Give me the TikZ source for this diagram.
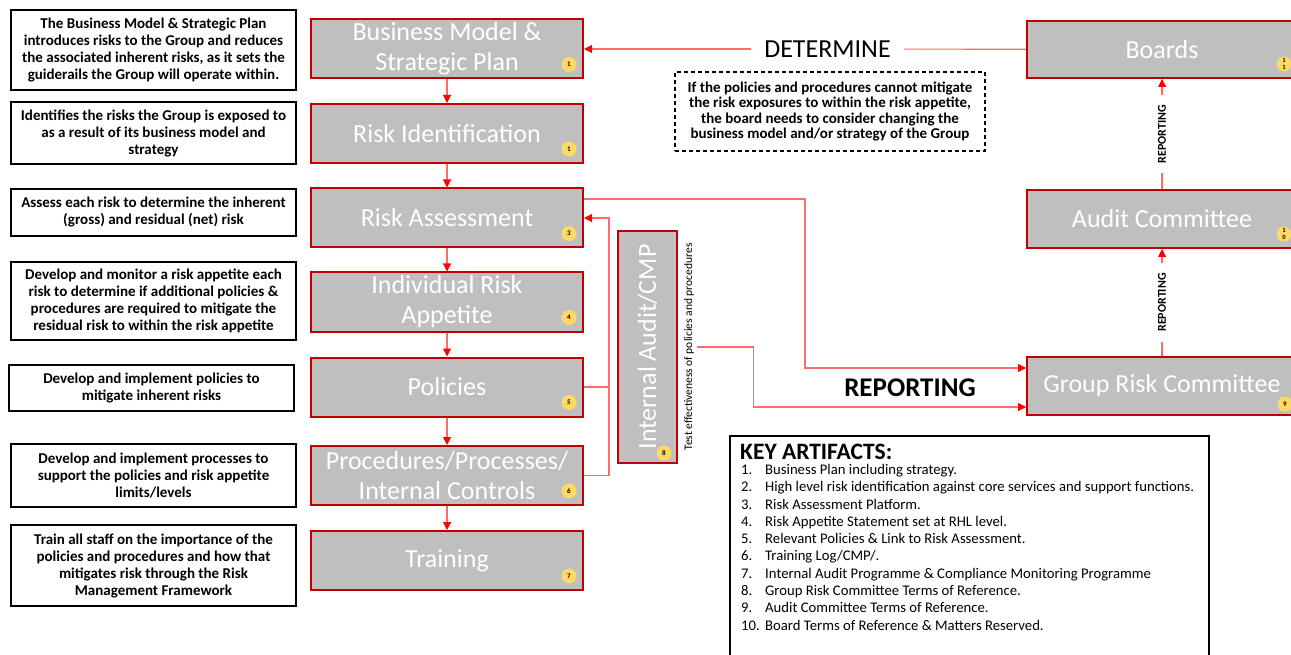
\documentclass[tikz,border=0pt]{standalone}
\usepackage{fontspec}
\setmainfont{Carlito}
\usepackage{tikz}
\usetikzlibrary{arrows.meta,positioning}
\definecolor{boxgrey}{HTML}{BFBFBF}
\definecolor{boxred}{HTML}{C00000}
\definecolor{linkred}{HTML}{FF6B6B}
\definecolor{tipred}{HTML}{FF0000}
\definecolor{badgeyellow}{HTML}{FFD966}

\begin{document}
\begin{tikzpicture}[
  x=1pt, y=-1pt,
  stage/.style={rectangle, draw=boxred, line width=2pt, fill=boxgrey, text=white,
    minimum width=272pt, minimum height=59pt, align=center, inner sep=1pt,
    font=\fontsize{26}{30}\selectfont}, % grey process boxes
  note/.style={rectangle, draw=black, line width=1.5pt, minimum width=285pt,
    align=center, inner sep=2pt, font=\fontsize{15}{17}\selectfont\bfseries},
  badge/.style={circle, fill=badgeyellow, minimum size=15pt, inner sep=0pt,
    align=center, font=\fontsize{7}{7}\selectfont\bfseries},
  link/.style={draw=linkred, line width=1.1pt},
  arrowed/.style={-{Triangle[length=8pt,width=8pt,color=tipred]}},
  rlabel/.style={rotate=90, fill=white, inner xsep=10pt,
    font=\fontsize{12}{12}\selectfont\bfseries}
]
  \useasboundingbox (0,0) rectangle (1291,655);
  \fill[white] (0,0) rectangle (1291,655);

  % explanations on the left
  \node[note, minimum height=80pt] (n1) at (153.5,50) {The Business Model \& Strategic Plan\\introduces risks to the Group and reduces\\the associated inherent risks, as it sets the\\guiderails the Group will operate within.};
  \node[note, minimum height=62pt] (n2) at (153.5,133) {Identifies the risks the Group is exposed to\\as a result of its business model and\\strategy};
  \node[note, minimum height=47pt] (n3) at (153.5,212.5) {Assess each risk to determine the inherent\\(gross) and residual (net) risk};
  \node[note, minimum height=78pt] (n4) at (153.5,301) {Develop and monitor a risk appetite each\\risk to determine if additional policies \&\\procedures are required to mitigate the\\residual risk to within the risk appetite};
  \node[note, minimum height=46pt] (n5) at (151.5,388) {Develop and implement policies to\\mitigate inherent risks};
  \node[note, minimum height=63pt] (n6) at (153.5,475.5) {Develop and implement processes to\\support the policies and risk appetite\\limits/levels};
  \node[note, minimum height=81pt] (n7) at (153.5,565.5) {Train all staff on the importance of the\\policies and procedures and how that\\mitigates risk through the Risk\\Management Framework};

  % process column
  \node[stage] (bm) at (447,49) {Business Model \&\\Strategic Plan};
  \node[stage] (ri) at (447,133.5) {Risk Identification};
  \node[stage] (ra) at (447,218) {Risk Assessment};
  \node[stage] (ira) at (447,302) {Individual Risk\\Appetite};
  \node[stage] (pol) at (447,387) {Policies};
  \node[stage] (proc) at (447,475.5) {Procedures/Processes/\\Internal Controls};
  \node[stage] (tr) at (447,560.5) {Training};

  \node[badge] (b1) at ([xshift=-15pt,yshift=15pt]bm.south east) {1};
  \node[badge] (b2) at ([xshift=-15pt,yshift=15pt]ri.south east) {1};
  \node[badge] (b3) at ([xshift=-15pt,yshift=15pt]ra.south east) {3};
  \node[badge] (b4) at ([xshift=-15pt,yshift=15pt]ira.south east) {4};
  \node[badge] (b5) at ([xshift=-15pt,yshift=15pt]pol.south east) {5};
  \node[badge] (b6) at ([xshift=-15pt,yshift=15pt]proc.south east) {6};
  \node[badge] (b7) at ([xshift=-15pt,yshift=15pt]tr.south east) {7};

  % internal audit
  \node[stage, rotate=90, minimum width=232pt, minimum height=59pt] (ia) at (647.5,347) {Internal Audit/CMP};
  \node[badge] (b8) at ([xshift=-14pt,yshift=11pt]ia.south west) {8};
  \node[rotate=90, inner sep=3pt, font=\fontsize{11.5}{11.5}\selectfont] (test) at (689,347) {Test effectiveness of policies and procedures};

  % governance on the right
  \node[stage, minimum width=270pt, minimum height=57pt] (boards) at (1162,49.5) {Boards};
  \node[stage, minimum width=270pt, minimum height=58pt] (audit) at (1162,219) {Audit Committee};
  \node[stage, minimum width=270pt, minimum height=58pt] (grc) at (1162,386) {Group Risk Committee};
  \node[badge, font=\fontsize{6.5}{7}\selectfont\bfseries] (b11) at ([xshift=-14pt,yshift=15pt]boards.south east) {1\\1};
  \node[badge, font=\fontsize{6.5}{7}\selectfont\bfseries] (b10) at ([xshift=-14pt,yshift=15pt]audit.south east) {1\\0};
  \node[badge] (b9) at ([xshift=-13pt,yshift=12pt]grc.south east) {9};

  \node[font=\fontsize{26}{26}\selectfont, inner xsep=13pt] (det) at (827.5,49) {DETERMINE};
  \node[draw, line width=1.2pt, dash pattern=on 4pt off 3pt, minimum width=310pt, minimum height=79pt,
    align=center, font=\fontsize{15}{15.3}\selectfont\bfseries] (why) at (830,111.5) {If the policies and procedures cannot mitigate\\the risk exposures to within the risk appetite,\\the board needs to consider changing the\\business model and/or strategy of the Group};
  \node[font=\fontsize{27}{27}\selectfont\bfseries] (rep) at (910,388) {REPORTING};

  % key artifacts
  \node[draw, line width=1.8pt, minimum width=479pt, minimum height=240pt, anchor=north west] (keybox) at (729,435) {};
  \node[anchor=west, inner sep=0pt, font=\fontsize{23.5}{23.5}\selectfont\bfseries] (keytitle) at (740,452) {KEY ARTIFACTS:};
  \node[anchor=north west, align=left, inner sep=0pt, font=\fontsize{14.7}{17.3}\selectfont] (keylist) at (741,464) {%
    \makebox[24pt][l]{1.}Business Plan including strategy.\\
    \makebox[24pt][l]{2.}High level risk identification against core services and support functions.\\
    \makebox[24pt][l]{3.}Risk Assessment Platform.\\
    \makebox[24pt][l]{4.}Risk Appetite Statement set at RHL level.\\
    \makebox[24pt][l]{5.}Relevant Policies \& Link to Risk Assessment.\\
    \makebox[24pt][l]{6.}Training Log/CMP/.\\
    \makebox[24pt][l]{7.}Internal Audit Programme \& Compliance Monitoring Programme\\
    \makebox[24pt][l]{8.}Group Risk Committee Terms of Reference.\\
    \makebox[24pt][l]{9.}Audit Committee Terms of Reference.\\
    \makebox[24pt][l]{10.}Board Terms of Reference \& Matters Reserved.};

  % connectors
  \draw[link, arrowed] (bm) -- (ri);
  \draw[link, arrowed] (ri) -- (ra);
  \draw[link, arrowed] (ra) -- (ira);
  \draw[link, arrowed] (ira) -- (pol);
  \draw[link, arrowed] (pol) -- (proc);
  \draw[link, arrowed] (proc) -- (tr);

  \draw[link] (pol.east) -- ++(25,0);
  \draw[link, arrowed] (proc.east) -- ++(25,0) |- (ra.east);

  \draw[link] (boards) -- (det);
  \draw[link, arrowed] (det) -- (bm);
  \draw[link, arrowed] (audit) -- node[rlabel] {REPORTING} (boards);
  \draw[link, arrowed] (grc) -- node[rlabel] {REPORTING} (audit);

  \draw[link, arrowed] ([yshift=19pt]ra.east) -- ++(221,0) |- ([yshift=18pt]grc.west);
  \draw[link, arrowed] (test.south) -- ++(56,0) |- ([yshift=-21pt]grc.west);
\end{tikzpicture}
\end{document}
